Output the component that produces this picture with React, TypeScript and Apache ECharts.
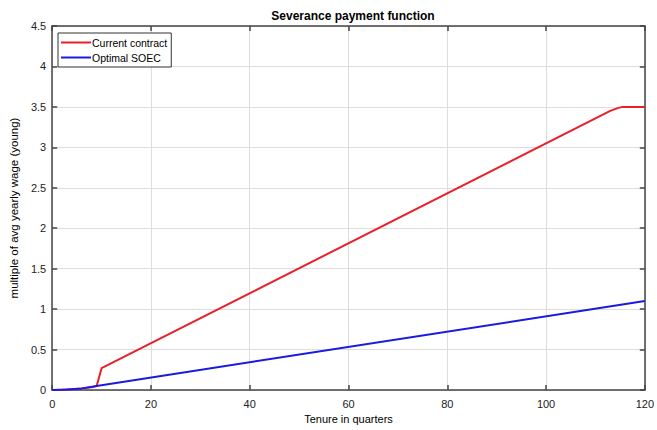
import React, { useEffect, useRef } from "react";
import * as echarts from "echarts";

const titleText = "Severance payment function";
const xAxisName = "Tenure in quarters";
const yAxisName = "multiple of avg yearly wage (young)";
const seriesNames = ["Current contract", "Optimal SOEC"];
const currentTenure = [0, 2, 4, 6, 8, 9, 10, 113, 114.5, 115.5, 120];
const currentValues = [0, 0.003, 0.01, 0.02, 0.035, 0.05, 0.27, 3.45, 3.485, 3.5, 3.5];
const optimalTenure = [0, 3, 6, 9, 120];
const optimalValues = [0, 0.005, 0.02, 0.05, 1.1];

const FONT = "Liberation Sans, Arial, sans-serif";

export default function App() {
  const ref = useRef<HTMLDivElement>(null);
  useEffect(() => {
    const chart = echarts.init(ref.current!, null, { renderer: "svg" });
    const axisLineStyle = { color: "#444", width: 1.5 };
    chart.setOption({
      animation: false,
      backgroundColor: "#fff",
      title: {
        text: titleText,
        left: 348,
        top: 5,
        textAlign: "center",
        textStyle: { fontFamily: FONT, fontSize: 12, fontWeight: "bold", color: "#000" },
      },
      legend: {
        orient: "vertical",
        left: 58,
        top: 33,
        data: seriesNames,
        icon: "rect",
        itemWidth: 30,
        itemHeight: 2,
        itemGap: 4,
        padding: [4, 4, 4, 3],
        borderColor: "#333",
        borderWidth: 1,
        backgroundColor: "#fff",
        textStyle: { fontFamily: FONT, fontSize: 10.5, color: "#000", padding: [0, 0, 0, -4] },
      },
      grid: { left: 50, right: 11, top: 26, bottom: 40, containLabel: false },
      xAxis: [
        {
          type: "value",
          min: 0,
          max: 120,
          interval: 20,
          name: xAxisName,
          nameLocation: "middle",
          nameGap: 22,
          nameTextStyle: { fontFamily: FONT, fontSize: 11, color: "#000" },
          axisLine: { show: true, onZero: false, lineStyle: axisLineStyle },
          axisTick: { show: true, inside: true, length: 5, lineStyle: axisLineStyle },
          axisLabel: { fontFamily: FONT, fontSize: 11, color: "#222", margin: 8 },
          splitLine: { show: true, lineStyle: { color: "#ddd", width: 1 } },
        },
        {
          type: "value",
          position: "top",
          min: 0,
          max: 120,
          interval: 20,
          axisLine: { show: true, onZero: false, lineStyle: axisLineStyle },
          axisTick: { show: true, inside: true, length: 5, lineStyle: axisLineStyle },
          axisLabel: { show: false },
          splitLine: { show: false },
        },
      ],
      yAxis: [
        {
          type: "value",
          min: 0,
          max: 4.5,
          interval: 0.5,
          name: yAxisName,
          nameLocation: "middle",
          nameGap: 29,
          nameTextStyle: { fontFamily: FONT, fontSize: 11.5, color: "#000" },
          axisLine: { show: true, onZero: false, lineStyle: axisLineStyle },
          axisTick: { show: true, inside: true, length: 5, lineStyle: axisLineStyle },
          axisLabel: { fontFamily: FONT, fontSize: 11, color: "#222", margin: 6 },
          splitLine: { show: true, lineStyle: { color: "#ddd", width: 1 } },
        },
        {
          type: "value",
          position: "right",
          min: 0,
          max: 4.5,
          interval: 0.5,
          axisLine: { show: true, onZero: false, lineStyle: axisLineStyle },
          axisTick: { show: true, inside: true, length: 5, lineStyle: axisLineStyle },
          axisLabel: { show: false },
          splitLine: { show: false },
        },
      ],
      series: [
        {
          name: seriesNames[0],
          type: "line",
          showSymbol: false,
          data: currentTenure.map((t, i) => [t, currentValues[i]]),
          lineStyle: { color: "#e8202a", width: 2 },
          itemStyle: { color: "#e8202a" },
        },
        {
          name: seriesNames[1],
          type: "line",
          showSymbol: false,
          data: optimalTenure.map((t, i) => [t, optimalValues[i]]),
          lineStyle: { color: "#1a1ae0", width: 2 },
          itemStyle: { color: "#1a1ae0" },
        },
      ],
    });
    return () => chart.dispose();
  }, []);
  return <div ref={ref} style={{ width: 657, height: 430, position: "absolute", left: 0, top: 0 }} />;
}
